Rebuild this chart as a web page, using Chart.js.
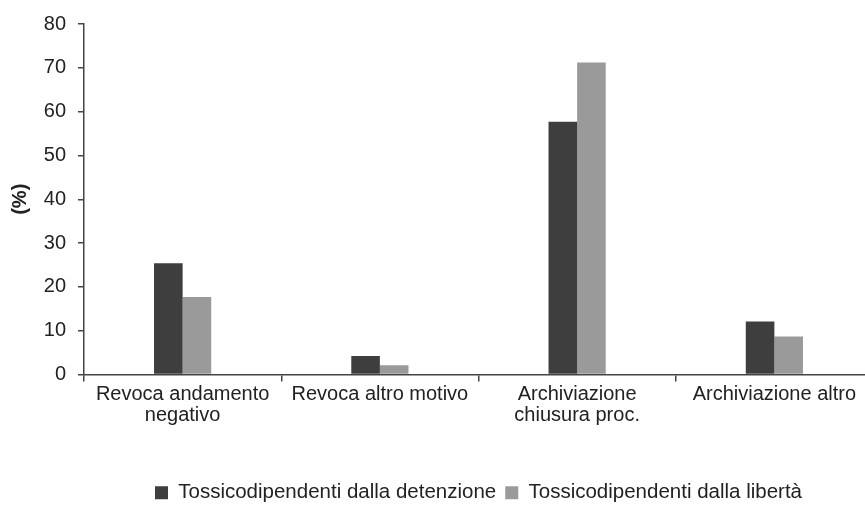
<!DOCTYPE html>
<html>
<head>
<meta charset="utf-8">
<script src="https://cdn.jsdelivr.net/npm/chart.js@4"></script>
<style>
  html, body { margin: 0; padding: 0; background: #fff; overflow: hidden; }
  #wrap { width: 873px; height: 513px; }
</style>
</head>
<body>
<div id="wrap"><canvas id="esitiChart"></canvas></div>
<script>
var categorie = [
    ['Revoca andamento', 'negativo'],
    'Revoca altro motivo',
    ['Archiviazione', 'chiusura proc.'],
    'Archiviazione altro'
];
var dallaDetenzione = [25.4, 4.2, 57.7, 12.1];
var dallaLiberta = [17.7, 2.1, 71.2, 8.7];
var tickY = [0, 10, 20, 30, 40, 50, 60, 70, 80];

var ctx = document.getElementById('esitiChart').getContext('2d');
var esitiChart = new Chart(ctx, {
    type: 'bar',
    data: {
        labels: categorie,
        datasets: [{
            label: 'Tossicodipendenti dalla detenzione',
            data: dallaDetenzione,
            backgroundColor: '#3e3e3e',
            borderWidth: 0
        }, {
            label: 'Tossicodipendenti dalla libertà',
            data: dallaLiberta,
            backgroundColor: '#9a9a9a',
            borderWidth: 0
        }]
    },
    options: {
        responsive: true,
        maintainAspectRatio: false,
        animation: false,
        categoryPercentage: 0.29,
        barPercentage: 1.0,
        layout: { padding: { top: 24, left: 0, right: 0, bottom: 0 } },
        plugins: {
            tooltip: { enabled: false },
            legend: {
                position: 'bottom',
                fullSize: false,
                labels: {
                    boxWidth: 13,
                    boxHeight: 13,
                    padding: 9,
                    color: '#222',
                    font: { family: 'Liberation Sans', size: 20.5 }
                }
            }
        },
        scales: {
            x: {
                afterFit: function (scale) { scale.height = 99; },
                grid: {
                    offset: true,
                    drawOnChartArea: false,
                    tickLength: 7,
                    color: '#444',
                    lineWidth: 1.5
                },
                border: { color: '#444', width: 1.5 },
                ticks: {
                    color: '#222',
                    maxRotation: 0,
                    autoSkip: false,
                    padding: 2,
                    font: { family: 'Liberation Sans', size: 20, lineHeight: 1.05 }
                }
            },
            y: {
                min: 0,
                max: 80,
                afterFit: function (scale) { scale.width = 84; },
                afterBuildTicks: function (axis) {
                    axis.ticks = tickY.map(function (v) { return { value: v }; });
                },
                grid: {
                    drawOnChartArea: false,
                    tickLength: 6,
                    color: '#444',
                    lineWidth: 1.5
                },
                border: { color: '#444', width: 1.5 },
                ticks: {
                    color: '#222',
                    padding: 12,
                    font: { family: 'Liberation Sans', size: 20 }
                },
                title: {
                    display: true,
                    text: '(%)',
                    color: '#222',
                    padding: { top: 8, bottom: 0 },
                    font: { family: 'Liberation Sans', size: 20, weight: 'bold' }
                }
            }
        }
    }
});
</script>
</body>
</html>
